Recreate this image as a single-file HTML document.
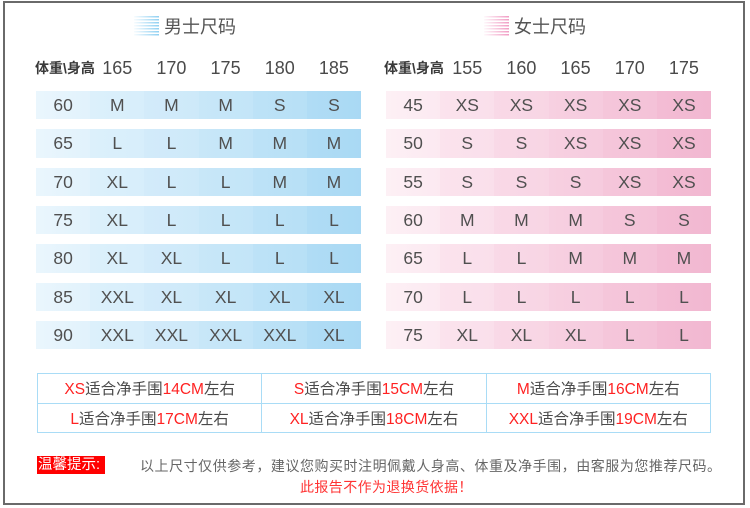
<!DOCTYPE html>
<html><head><meta charset="utf-8">
<style>
*{margin:0;padding:0;box-sizing:border-box}
body{width:750px;height:508px;background:#fff;position:relative;overflow:hidden;font-family:"Liberation Sans","Noto Sans CJK SC",sans-serif;}
.frame{position:absolute;left:3px;top:1px;width:742px;height:504px;border:2.5px solid #6a6a6a;}
.abs{position:absolute}
.title{position:absolute;top:15px;font-size:18px;color:#555;line-height:24px;font-family:"Liberation Sans","Noto Sans CJK SC",sans-serif;}
.icon{position:absolute;top:16px;width:25px;height:21px;}
.icon .st{position:absolute;inset:0;background:repeating-linear-gradient(to bottom,rgba(255,255,255,0) 0,rgba(255,255,255,0) 1.5px,#fff 1.5px,#fff 3px);}
.hdr{position:absolute;top:57px;height:22px;line-height:22px;font-size:18px;color:#4a4a4a;text-align:center;width:54.17px}
.hlab{position:absolute;top:59px;font-size:14px;font-weight:bold;color:#3a3a3a;line-height:18px;white-space:nowrap}
.row{position:absolute;height:28.4px;width:325px;display:flex}
.row div{flex:1;text-align:center;line-height:28.4px;font-size:17.5px;color:#505050}
.m0{background:linear-gradient(to right,#eaf6fd,#e1f2fc)}
.m1{background:linear-gradient(to right,#dcf0fb,#d7eefb)}
.m2{background:linear-gradient(to right,#d3ebfa,#cde9f9)}
.m3{background:linear-gradient(to right,#c8e7f8,#c3e5f8)}
.m4{background:linear-gradient(to right,#bde2f7,#b7e0f6)}
.m5{background:linear-gradient(to right,#b0dcf5,#a9d9f4)}
.w0{background:linear-gradient(to right,#fdf0f5,#fce9f1)}
.w1{background:linear-gradient(to right,#fbe3ed,#fadfeb)}
.w2{background:linear-gradient(to right,#f9d9e7,#f8d5e4)}
.w3{background:linear-gradient(to right,#f7d0e1,#f6cbde)}
.w4{background:linear-gradient(to right,#f5c6da,#f4c2d8)}
.w5{background:linear-gradient(to right,#f3bcd4,#f2b8d1)}
table.b{position:absolute;left:37px;top:373px;width:674px;height:59px;border-collapse:collapse;}
table.b td{border:1.5px solid #a9dcf6;text-align:center;font-size:15.5px;color:#4a4a4a;height:29.5px;width:33.33%;white-space:nowrap;padding:0}
.r{color:#f22}
</style></head><body>
<div class="frame"></div>

<div class="icon" style="left:134px;background:linear-gradient(to right,rgba(174,220,245,0.1),#8fd0f2)"><div class="st"></div></div>
<div class="title" style="left:164px">男士尺码</div>
<div class="icon" style="left:484px;background:linear-gradient(to right,rgba(245,180,210,0.1),#f19cc4)"><div class="st"></div></div>
<div class="title" style="left:514px">女士尺码</div>

<div class="hlab" style="left:35px">体重\身高</div>
<div class="hdr" style="left:90.2px">165</div>
<div class="hdr" style="left:144.3px">170</div>
<div class="hdr" style="left:198.5px">175</div>
<div class="hdr" style="left:252.7px">180</div>
<div class="hdr" style="left:306.8px">185</div>

<div class="hlab" style="left:384px">体重\身高</div>
<div class="hdr" style="left:440.2px">155</div>
<div class="hdr" style="left:494.3px">160</div>
<div class="hdr" style="left:548.5px">165</div>
<div class="hdr" style="left:602.7px">170</div>
<div class="hdr" style="left:656.8px">175</div>

<div class="row" style="left:36px;top:91px"><div class="m0">60</div><div class="m1">M</div><div class="m2">M</div><div class="m3">M</div><div class="m4">S</div><div class="m5">S</div></div>
<div class="row" style="left:36px;top:129.3px"><div class="m0">65</div><div class="m1">L</div><div class="m2">L</div><div class="m3">M</div><div class="m4">M</div><div class="m5">M</div></div>
<div class="row" style="left:36px;top:167.6px"><div class="m0">70</div><div class="m1">XL</div><div class="m2">L</div><div class="m3">L</div><div class="m4">M</div><div class="m5">M</div></div>
<div class="row" style="left:36px;top:205.9px"><div class="m0">75</div><div class="m1">XL</div><div class="m2">L</div><div class="m3">L</div><div class="m4">L</div><div class="m5">L</div></div>
<div class="row" style="left:36px;top:244.2px"><div class="m0">80</div><div class="m1">XL</div><div class="m2">XL</div><div class="m3">L</div><div class="m4">L</div><div class="m5">L</div></div>
<div class="row" style="left:36px;top:282.5px"><div class="m0">85</div><div class="m1">XXL</div><div class="m2">XL</div><div class="m3">XL</div><div class="m4">XL</div><div class="m5">XL</div></div>
<div class="row" style="left:36px;top:320.8px"><div class="m0">90</div><div class="m1">XXL</div><div class="m2">XXL</div><div class="m3">XXL</div><div class="m4">XXL</div><div class="m5">XL</div></div>

<div class="row" style="left:386px;top:91px"><div class="w0">45</div><div class="w1">XS</div><div class="w2">XS</div><div class="w3">XS</div><div class="w4">XS</div><div class="w5">XS</div></div>
<div class="row" style="left:386px;top:129.3px"><div class="w0">50</div><div class="w1">S</div><div class="w2">S</div><div class="w3">XS</div><div class="w4">XS</div><div class="w5">XS</div></div>
<div class="row" style="left:386px;top:167.6px"><div class="w0">55</div><div class="w1">S</div><div class="w2">S</div><div class="w3">S</div><div class="w4">XS</div><div class="w5">XS</div></div>
<div class="row" style="left:386px;top:205.9px"><div class="w0">60</div><div class="w1">M</div><div class="w2">M</div><div class="w3">M</div><div class="w4">S</div><div class="w5">S</div></div>
<div class="row" style="left:386px;top:244.2px"><div class="w0">65</div><div class="w1">L</div><div class="w2">L</div><div class="w3">M</div><div class="w4">M</div><div class="w5">M</div></div>
<div class="row" style="left:386px;top:282.5px"><div class="w0">70</div><div class="w1">L</div><div class="w2">L</div><div class="w3">L</div><div class="w4">L</div><div class="w5">L</div></div>
<div class="row" style="left:386px;top:320.8px"><div class="w0">75</div><div class="w1">XL</div><div class="w2">XL</div><div class="w3">XL</div><div class="w4">L</div><div class="w5">L</div></div>

<table class="b">
<tr><td><span class="r">XS</span>适合净手围<span class="r">14CM</span>左右</td><td><span class="r">S</span>适合净手围<span class="r">15CM</span>左右</td><td><span class="r">M</span>适合净手围<span class="r">16CM</span>左右</td></tr>
<tr><td><span class="r">L</span>适合净手围<span class="r">17CM</span>左右</td><td><span class="r">XL</span>适合净手围<span class="r">18CM</span>左右</td><td><span class="r">XXL</span>适合净手围<span class="r">19CM</span>左右</td></tr>
</table>

<div class="abs" style="left:37px;top:456px;width:68px;height:18px;background:#f00;color:#fff;font-size:14.5px;line-height:18px;padding-left:1px;white-space:nowrap">温馨提示:</div>
<div class="abs" style="left:140px;top:456px;font-size:14px;letter-spacing:0.54px;color:#666;line-height:20px;white-space:nowrap">以上尺寸仅供参考，建议您购买时注明佩戴人身高、体重及净手围，由客服为您推荐尺码。</div>
<div class="abs" style="left:300px;top:477px;font-size:14px;letter-spacing:0.4px;color:#f33;line-height:20px;white-space:nowrap">此报告不作为退换货依据！</div>
</body></html>
